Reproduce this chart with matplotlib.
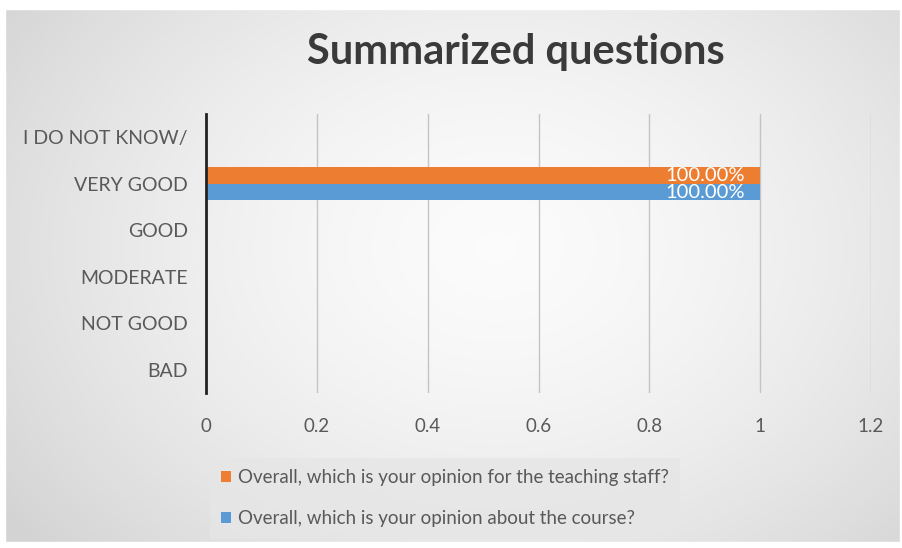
import numpy as np
import matplotlib.pyplot as plt
from matplotlib.patches import Rectangle

plt.rcParams['font.family'] = ['Lato', 'DejaVu Sans']

categories = ['BAD', 'NOT GOOD', 'MODERATE', 'GOOD', 'VERY GOOD', 'I DO NOT KNOW/']
staff = [0, 0, 0, 0, 1.0, 0]
course = [0, 0, 0, 0, 1.0, 0]
series_names = ['Overall, which is your opinion for the teaching staff?',
                'Overall, which is your opinion about the course?']
xticks = [0, 0.2, 0.4, 0.6, 0.8, 1, 1.2]

W, H = 902, 548
fig = plt.figure(figsize=(W / 100, H / 100), dpi=100)

# ── background: radial grey gradient inside a thin white frame ──
bg = fig.add_axes([0, 0, 1, 1], zorder=-10)
bg.set_xlim(0, W); bg.set_ylim(H, 0); bg.axis('off')
yy, xx = np.mgrid[0:H, 0:W]
r = np.sqrt(((xx - W * 0.55) / (W * 0.6))**2 + ((yy - H * 0.45) / (H * 0.75))**2)
g = np.clip(0.985 - 0.13 * r**1.6, 0.83, 0.985)
img = np.dstack([g, g, g])
bg.imshow(img, extent=[0, W, H, 0], aspect='auto')
bg.add_patch(Rectangle((0, 0), W, 9, color='white', zorder=2))
bg.add_patch(Rectangle((0, 0), 5, H, color='white', zorder=2))
bg.add_patch(Rectangle((W - 2, 0), 2, H, color='white', zorder=2))
bg.add_patch(Rectangle((0, H - 6), W, 6, color='white', zorder=2))

# ── main axes ──
ax = fig.add_axes([206 / W, 1 - 393 / H, (871 - 206) / W, 279 / H])
ax.patch.set_alpha(0)
y = np.arange(len(categories))
h = 0.36
b1 = ax.barh(y + h / 2, staff, height=h, color='#ed7d31', label=series_names[0], zorder=3)
b2 = ax.barh(y - h / 2, course, height=h, color='#5b9bd5', label=series_names[1], zorder=3)
for bars, vals in [(b1, staff), (b2, course)]:
    for rect, v in zip(bars, vals):
        if v > 0:
            ax.text(v - 0.027, rect.get_y() + rect.get_height() / 2, f'{v * 100:.2f}%',
                    ha='right', va='center', color='white', fontsize=14.5, zorder=4)

ax.set_xlim(0, 1.2)
ax.set_ylim(-0.5, len(categories) - 0.5)
ax.set_xticks(xticks)
ax.set_xticklabels([f'{t:g}' for t in xticks])
ax.set_yticks(y)
ax.set_yticklabels(categories)
ax.tick_params(length=0, labelsize=14, colors='#595959', pad=13)
ax.tick_params(axis='x', labelsize=13.5, pad=18)
ax.grid(axis='x', color='#c4c4c4', linewidth=1, zorder=0)
for s in ['top', 'right', 'bottom']:
    ax.spines[s].set_visible(False)
ax.spines['left'].set_color('#222222')
ax.spines['left'].set_linewidth(2)
ax.spines['left'].set_zorder(5)

fig.text(516 / W, 1 - 52 / H, 'Summarized questions', ha='center', va='center',
         fontsize=30, fontweight='bold', color='#3a3a3a')

leg = fig.legend(handles=[b1, b2], loc='upper left', bbox_to_anchor=(206 / W, 1 - 454 / H),
                 frameon=True, fontsize=13.5, handlelength=0.55, handleheight=0.55,
                 handletextpad=0.35, labelspacing=1.3, borderpad=0.3)
leg.get_frame().set_facecolor('#e6e6e6')
leg.get_frame().set_edgecolor('none')
leg.get_frame().set_boxstyle('square')
for t in leg.get_texts():
    t.set_color('#595959')

fig.savefig('out.png', dpi=100)
